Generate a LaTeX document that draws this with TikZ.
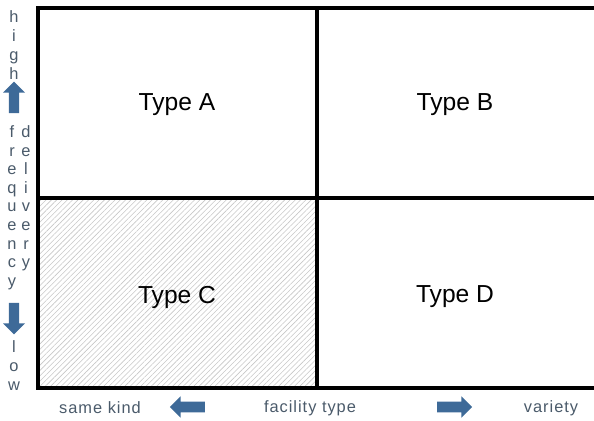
\documentclass[tikz,border=0pt]{standalone}
\usepackage{fontspec}
\setmainfont{Liberation Sans}
\newfontfamily\spacedfont[LetterSpace=6]{Liberation Sans}
\usetikzlibrary{positioning, shapes.arrows, patterns.meta}
\definecolor{arrowblue}{HTML}{3E6A98}
\definecolor{labelgray}{HTML}{4A5A6A}

\begin{document}
\begin{tikzpicture}[x=0.3mm, y=-0.3mm,
    celltext/.style={font=\fontsize{21}{25}\selectfont},
    axistext/.style={font=\spacedfont\fontsize{14}{16}\selectfont, text=labelgray},
    letter/.style={font=\fontsize{14}{16}\selectfont, text=labelgray, inner sep=0pt, anchor=base},
    blockarrow/.style={single arrow, fill=arrowblue, draw=none, minimum height=10.5mm,
                       minimum width=6.4mm, inner sep=1.5mm,
                       single arrow head extend=1.6mm},
    uparrow/.style={blockarrow, minimum height=9.4mm, minimum width=6.6mm, inner sep=1.35mm}]

    \useasboundingbox (0,0) rectangle (594,421);

    % Hatched cell at the bottom left
    \fill[pattern={Lines[angle=45, distance=3.2pt, line width=0.5pt]}, pattern color=black!22]
        (38,198) rectangle (317,388);

    % Grid lines
    \draw[line width=2.8pt] (600,8) -- (38,8) -- (38,388) -- (600,388);
    \draw[line width=2.8pt] (38,198) -- (600,198);
    \draw[line width=2.8pt] (317,8) -- (317,388);

    % Nodes for the four types
    \node (ta) [celltext] at (177,105) {Type A};
    \node (tb) [celltext] at (455,105) {Type B};
    \node (tc) [celltext] at (177,297) {Type C};
    \node (td) [celltext] at (455,297) {Type D};

    % Horizontal axis
    \node (same) [axistext] at (100,408) {same kind};
    \node (fac) [axistext] at (310,408) {facility type};
    \node (var) [axistext] at (551,408) {variety};
    \node (larr) [blockarrow, shape border rotate=180] at (190,407) {};
    \node (rarr) [blockarrow] at (452,407) {};

    % Vertical axis, one letter under the other
    \foreach \ch [count=\i] in {h,i,g,h}
        \node (hi\i) [letter] at (14,{4+19*\i}) {\ch};
    \node (uarr) [uparrow, shape border rotate=90] at (14,100) {};
    \foreach \ch [count=\i] in {f,r,e,q,u,e,n,c,y}
        \node (fr\i) [letter] at (12,{119+18.6*\i}) {\ch};
    \foreach \ch [count=\i] in {d,e,l,i,v,e,r,y}
        \node (de\i) [letter] at (26,{119+18.6*\i}) {\ch};
    \node (darr) [uparrow, shape border rotate=270] at (14,316) {};
    \foreach \ch [count=\i] in {l,o,w}
        \node (lo\i) [letter] at (14,{333+19*\i}) {\ch};

\end{tikzpicture}
\end{document}
